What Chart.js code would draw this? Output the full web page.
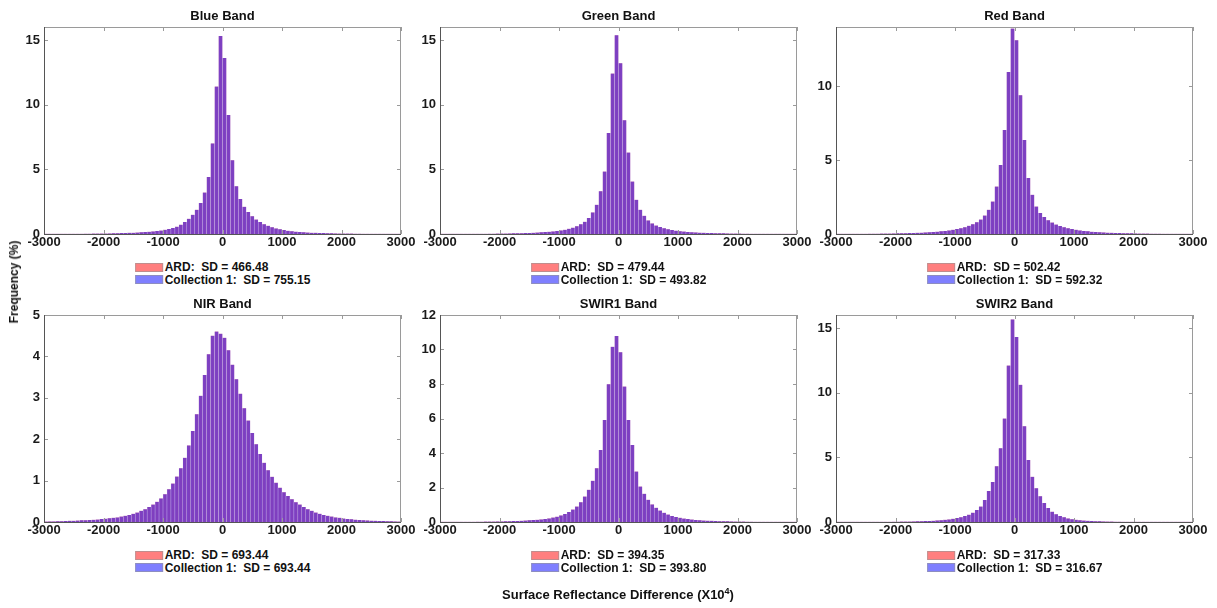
<!DOCTYPE html>
<html>
<head>
<meta charset="utf-8">
<script src="https://cdn.jsdelivr.net/npm/chart.js@4.4.0/dist/chart.umd.min.js"></script>
<style>
  html,body{margin:0;padding:0;background:#fff;}
  body{width:1217px;height:608px;position:relative;overflow:hidden;font-family:"Liberation Sans",Arial,sans-serif;}
  canvas.c{position:absolute;}
  .lg{position:absolute;transform:translateX(-50%);font:bold 12px "Liberation Sans",Arial,sans-serif;color:#111;}
  .lg .row{display:flex;align-items:center;height:12.6px;white-space:pre;}
  .lg .sw{display:inline-block;width:28px;height:9px;margin-right:2px;box-sizing:border-box;border:1px solid rgba(150,150,150,0.6);}
  .axl{position:absolute;font:bold 12px "Liberation Sans",Arial,sans-serif;color:#111;white-space:nowrap;}
</style>
</head>
<body>
<script>
// ---- data (bin edges -3000..3000, 90 bins) ----
const binStart = -3000, binEnd = 3000, binCount = 90;
const xTickStep = 1000;
const bandTitles = ['Blue Band','Green Band','Red Band','NIR Band','SWIR1 Band','SWIR2 Band'];
const seriesNames = ['ARD','Collection 1'];
const ardSD = ['466.48','479.44','502.42','693.44','394.35','317.33'];
const c1SD  = ['755.15','493.82','592.32','693.44','393.80','316.67'];
const yMax  = [16,16,14,5,12,16];
const yStep = [5,5,5,1,2,5];

// frequency (%) per bin; ARD and Collection 1 overlap almost exactly in the picture
const blueFreq = [0.01,0.01,0.011,0.012,0.013,0.015,0.016,0.018,0.02,0.022,
 0.024,0.027,0.03,0.033,0.037,0.042,0.047,0.053,0.06,0.068,
 0.077,0.088,0.1,0.11,0.13,0.15,0.17,0.2,0.23,0.27,
 0.32,0.38,0.46,0.57,0.72,0.92,1.18,1.49,1.87,2.4,
 3.2,4.4,7.0,11.4,15.3,13.6,9.2,5.7,3.7,2.7,
 2.1,1.7,1.38,1.12,0.92,0.76,0.63,0.52,0.43,0.36,
 0.3,0.25,0.21,0.18,0.155,0.135,0.115,0.1,0.088,0.077,
 0.068,0.06,0.053,0.047,0.042,0.037,0.033,0.03,0.027,0.024,
 0.022,0.02,0.018,0.016,0.015,0.013,0.012,0.011,0.01,0.01];
const greenFreq = [0.01,0.01,0.01,0.01,0.011,0.012,0.013,0.014,0.016,0.018,
 0.02,0.022,0.025,0.028,0.032,0.036,0.04,0.045,0.051,0.058,
 0.066,0.075,0.085,0.095,0.11,0.13,0.15,0.17,0.2,0.24,
 0.28,0.33,0.4,0.49,0.6,0.75,0.95,1.23,1.67,2.26,
 3.3,4.83,7.8,12.4,15.37,13.2,8.8,6.3,4.06,2.64,
 1.87,1.41,1.05,0.82,0.66,0.54,0.45,0.37,0.31,0.26,
 0.22,0.19,0.16,0.14,0.12,0.105,0.09,0.08,0.07,0.062,
 0.055,0.049,0.043,0.038,0.034,0.03,0.027,0.024,0.021,0.019,
 0.017,0.015,0.014,0.013,0.012,0.011,0.01,0.01,0.01,0.01];
const redFreq = [0.01,0.01,0.011,0.012,0.013,0.014,0.016,0.018,0.02,0.022,
 0.025,0.028,0.031,0.035,0.039,0.044,0.049,0.055,0.062,0.07,
 0.08,0.092,0.105,0.12,0.14,0.16,0.18,0.21,0.24,0.28,
 0.33,0.39,0.46,0.55,0.66,0.8,0.98,1.25,1.64,2.2,
 3.21,4.67,7.03,10.96,13.9,13.1,9.39,6.36,3.78,2.65,
 1.86,1.42,1.15,0.93,0.77,0.64,0.54,0.46,0.39,0.33,
 0.28,0.24,0.21,0.18,0.155,0.135,0.12,0.105,0.092,0.08,
 0.07,0.062,0.055,0.049,0.044,0.039,0.035,0.031,0.028,0.025,
 0.022,0.02,0.018,0.016,0.014,0.013,0.012,0.011,0.01,0.01];
const nirFreq = [0.01,0.015,0.015,0.02,0.02,0.025,0.03,0.03,0.035,0.04,
 0.045,0.05,0.055,0.06,0.07,0.08,0.09,0.1,0.11,0.13,
 0.15,0.17,0.2,0.23,0.27,0.31,0.36,0.42,0.49,0.57,
 0.67,0.79,0.93,1.1,1.3,1.55,1.85,2.2,2.6,3.05,
 3.55,4.05,4.5,4.6,4.55,4.45,4.15,3.8,3.45,3.1,
 2.75,2.45,2.15,1.88,1.64,1.43,1.25,1.09,0.95,0.83,
 0.72,0.63,0.55,0.48,0.42,0.36,0.31,0.27,0.23,0.2,
 0.17,0.15,0.13,0.11,0.1,0.085,0.075,0.065,0.057,0.05,
 0.044,0.038,0.033,0.029,0.025,0.022,0.019,0.016,0.014,0.012];
const swir1Freq = [0.01,0.01,0.01,0.01,0.011,0.012,0.013,0.014,0.016,0.018,
 0.02,0.022,0.025,0.028,0.032,0.036,0.041,0.047,0.054,0.062,
 0.071,0.082,0.095,0.11,0.13,0.15,0.18,0.21,0.26,0.31,
 0.38,0.47,0.58,0.72,0.9,1.15,1.48,1.87,2.39,3.12,
 4.18,5.92,7.99,10.16,10.78,9.84,7.85,5.92,4.47,2.93,
 2.06,1.64,1.29,1.02,0.82,0.66,0.53,0.43,0.35,0.29,
 0.24,0.2,0.17,0.14,0.12,0.1,0.088,0.076,0.066,0.057,
 0.05,0.044,0.038,0.033,0.029,0.026,0.023,0.02,0.018,0.016,
 0.015,0.013,0.012,0.011,0.01,0.01,0.01,0.01,0.01,0.01];
const swir2Freq = [0.01,0.01,0.01,0.01,0.01,0.01,0.01,0.011,0.012,0.013,
 0.014,0.016,0.018,0.02,0.023,0.026,0.03,0.035,0.04,0.046,
 0.053,0.062,0.072,0.085,0.1,0.12,0.14,0.17,0.2,0.25,
 0.3,0.37,0.46,0.57,0.72,0.92,1.2,1.7,2.4,3.1,
 4.3,5.7,8.0,12.1,15.66,14.3,10.6,7.4,4.8,3.5,
 2.6,2.0,1.47,1.08,0.8,0.6,0.46,0.36,0.28,0.22,
 0.17,0.14,0.11,0.09,0.075,0.062,0.052,0.044,0.037,0.031,
 0.027,0.023,0.02,0.018,0.016,0.014,0.012,0.011,0.01,0.01,
 0.01,0.01,0.01,0.01,0.01,0.01,0.01,0.01,0.01,0.01];

const ardSeries = [blueFreq, greenFreq, redFreq, nirFreq, swir1Freq, swir2Freq];
const c1Series  = [blueFreq, greenFreq, redFreq, nirFreq, swir1Freq, swir2Freq];

// ---- styling / layout ----
const ARD_COLOR = 'rgba(255,0,0,0.5)';
const C1_COLOR  = 'rgba(0,0,255,0.5)';
const FONT = '"Liberation Sans", Arial, sans-serif';
const plotLefts = [44, 440, 836];
const rowTops = [0, 288];
const plotW = 357, yAxisW = 40, rightPad = 20, canvasH = 256, xAxisH = 22;

const binW = (binEnd - binStart) / binCount;
const binCenters = Array.from({length: binCount}, (_, i) => binStart + binW * (i + 0.5));

const framePlugin = {
  id: 'frame',
  afterDraw(chart) {
    const {ctx, chartArea: a, scales: {x, y}} = chart;
    ctx.save();
    ctx.lineWidth = 1;
    ctx.strokeStyle = '#9a9a9a';
    ctx.strokeRect(a.left + 0.5, a.top + 0.5, a.right - a.left - 1, a.bottom - a.top);
    ctx.beginPath();
    x.ticks.forEach(t => {
      const px = Math.round(x.getPixelForValue(t.value)) + 0.5;
      ctx.moveTo(px, a.bottom); ctx.lineTo(px, a.bottom - 4);
      ctx.moveTo(px, a.top); ctx.lineTo(px, a.top + 4);
    });
    y.ticks.forEach(t => {
      const py = Math.round(y.getPixelForValue(t.value)) + 0.5;
      ctx.moveTo(a.left, py); ctx.lineTo(a.left + 4, py);
      ctx.moveTo(a.right, py); ctx.lineTo(a.right - 4, py);
    });
    ctx.stroke();
    ctx.strokeStyle = '#555';
    ctx.beginPath();
    ctx.moveTo(a.left, a.bottom + 0.5); ctx.lineTo(a.right, a.bottom + 0.5);
    ctx.moveTo(a.left + 0.5, a.top); ctx.lineTo(a.left + 0.5, a.bottom);
    ctx.stroke();
    ctx.restore();
  }
};

function ds(label, values, color, order) {
  return {
    label,
    order,
    data: values.map((v, i) => ({x: binCenters[i], y: v})),
    backgroundColor: color,
    borderColor: 'rgba(225,205,235,0.25)',
    borderWidth: {left: 0.5, right: 0.5, top: 0, bottom: 0},
    grouped: false,
    barPercentage: 1,
    categoryPercentage: 1
  };
}

const numLabel = v => String(v);

for (let p = 0; p < 6; p++) {
  const col = p % 3, row = Math.floor(p / 3);
  const cv = document.createElement('canvas');
  cv.className = 'c';
  const cw = yAxisW + plotW + rightPad;
  cv.width = cw; cv.height = canvasH;
  cv.style.left = (plotLefts[col] - yAxisW) + 'px';
  cv.style.top = rowTops[row] + 'px';
  cv.style.width = cw + 'px'; cv.style.height = canvasH + 'px';
  document.body.appendChild(cv);

  new Chart(cv, {
    type: 'bar',
    data: {datasets: [ds(seriesNames[0], ardSeries[p], ARD_COLOR, 1), ds(seriesNames[1], c1Series[p], C1_COLOR, 0)]},
    options: {
      responsive: false, animation: false, devicePixelRatio: 1,
      layout: {padding: {left: 0, right: rightPad, top: 0, bottom: 0}},
      plugins: {
        legend: {display: false},
        tooltip: {enabled: false},
        title: {display: true, text: bandTitles[p], fullSize: false, color: '#111',
                font: {family: FONT, size: 13, weight: 'bold'}, padding: {top: 9, bottom: 2.4}}
      },
      scales: {
        x: {type: 'linear', min: binStart, max: binEnd, offset: false,
            ticks: {stepSize: xTickStep, color: '#1a1a1a', maxRotation: 0, autoSkip: false, padding: 1,
                    callback: numLabel, font: {family: FONT, size: 13, weight: 'bold'}},
            grid: {display: false, drawTicks: false}, border: {display: false},
            afterFit: s => { s.height = xAxisH; }},
        y: {min: 0, max: yMax[p],
            ticks: {stepSize: yStep[p], includeBounds: false, color: '#1a1a1a', padding: 4,
                    callback: numLabel, font: {family: FONT, size: 13, weight: 'bold'}},
            grid: {display: false, drawTicks: false}, border: {display: false},
            afterFit: s => { s.width = yAxisW; }}
      }
    },
    plugins: [framePlugin]
  });

  // legend (HTML, real text)
  const lg = document.createElement('div');
  lg.className = 'lg';
  lg.style.left = (plotLefts[col] + plotW / 2) + 'px';
  lg.style.top = (rowTops[row] + canvasH - xAxisH + 27) + 'px';
  const rows = [[ARD_COLOR, seriesNames[0] + ':  SD = ' + ardSD[p]], [C1_COLOR, seriesNames[1] + ':  SD = ' + c1SD[p]]];
  rows.forEach(([c, t]) => {
    const r = document.createElement('div'); r.className = 'row';
    const sw = document.createElement('span'); sw.className = 'sw'; sw.style.background = c;
    const tx = document.createElement('span'); tx.textContent = t;
    r.appendChild(sw); r.appendChild(tx); lg.appendChild(r);
  });
  document.body.appendChild(lg);
}

// shared axis titles
const yl = document.createElement('div');
yl.className = 'axl';
yl.textContent = 'Frequency (%)';
yl.style.left = '14px'; yl.style.top = '282px';
yl.style.transform = 'translate(-50%,-50%) rotate(-90deg)';
document.body.appendChild(yl);

const xl = document.createElement('div');
xl.className = 'axl';
xl.style.fontSize = '13px';
xl.innerHTML = 'Surface Reflectance Difference (X10<sup style="font-size:9px">4</sup>)';
xl.style.left = '618px'; xl.style.top = '594px';
xl.style.transform = 'translate(-50%,-50%)';
document.body.appendChild(xl);
</script>
</body>
</html>
